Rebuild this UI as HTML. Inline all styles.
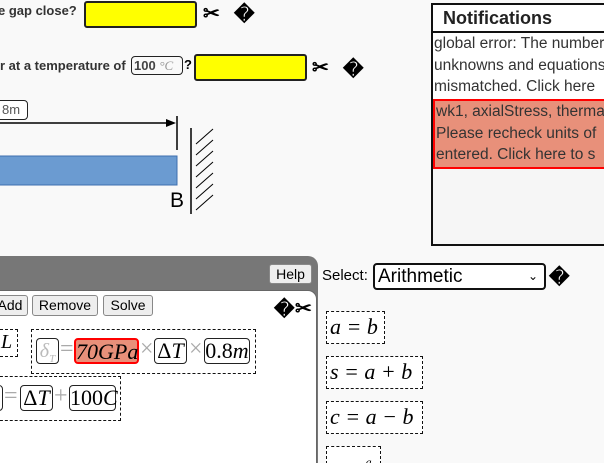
<!DOCTYPE html>
<html style="overflow:hidden;width:604px;height:463px"><head><style>
body{margin:0;width:604px;height:463px;overflow:hidden;background:#f9f9f9;font-family:"Liberation Sans",sans-serif;position:relative}
.a{position:absolute}
.y{position:absolute;background:#ff0;border:2px solid #222;border-radius:3px;box-sizing:border-box}
.q{position:absolute;font-size:20px;font-weight:bold}
.m{font-family:"Liberation Serif",serif;font-style:italic}
.bx{position:absolute;border:1px solid #222;border-radius:4px;box-sizing:border-box;font-family:"Liberation Serif",serif;font-style:italic;font-size:22px;text-align:center;line-height:24px;background:#fff}
.ds{position:absolute;border:1px dashed #111;box-sizing:border-box}
.btn{position:absolute;top:295px;height:21px;border:1px solid #888;border-radius:3px;background:#eee;font-size:14px;line-height:19px;text-align:center;box-sizing:border-box}
.gr{position:absolute;color:#aaa;font-size:24px;font-family:"Liberation Serif",serif}
.nt{font-size:15.5px;line-height:22px;color:#333;white-space:nowrap;padding-left:1px}
.eq{position:absolute;border:1px dashed #111;box-sizing:border-box;font-family:"Liberation Serif",serif;font-style:italic;font-size:22px;line-height:30px;padding-left:3px;white-space:nowrap;background:#fff}
</style></head><body>
<div class="a" style="left:-2px;top:3px;font-size:13px;font-weight:bold;color:#333">e gap close?</div>
<div class="y" style="left:84px;top:1px;width:113px;height:27px"></div>
<div class="q" style="left:203px;top:1px">✂</div>
<div class="q" style="left:234px;top:2px">�</div>
<div class="a" style="left:0;top:58px;font-size:13px;font-weight:bold;color:#333">r at a temperature of</div>
<div class="a" style="left:131px;top:56px;width:52px;height:19px;border:1px solid #222;border-radius:4px;box-sizing:border-box;font-size:13px;font-weight:bold;color:#444;line-height:17px;padding-left:2px">100 <span class="m" style="font-weight:normal;color:#999">°C</span></div>
<div class="a" style="left:184px;top:57px;font-size:13px;font-weight:bold">?</div>
<div class="y" style="left:194px;top:54px;width:113px;height:27px"></div>
<div class="q" style="left:312px;top:55px">✂</div>
<div class="q" style="left:343px;top:57px">�</div>
<div class="a" style="left:-6px;top:100px;width:34px;height:20px;border:1px solid #222;border-radius:4px;box-sizing:border-box;font-size:13px;color:#555;line-height:18px;padding-left:7px;background:#fff">8m</div>
<svg class="a" style="left:0;top:0" width="430" height="230">
<line x1="0" y1="123" x2="170" y2="123" stroke="#000" stroke-width="1.5"/>
<polygon points="176,123 166,119 166,127" fill="#000"/>
<line x1="177" y1="116" x2="177" y2="150" stroke="#000" stroke-width="1.5"/>
<rect x="-1" y="156" width="178" height="29" fill="#6b9bd1" stroke="#3e6fae"/>
<line x1="191" y1="128" x2="191" y2="214" stroke="#000" stroke-width="1.5"/>
<g stroke="#000" stroke-width="1">
<line x1="196" y1="144" x2="213" y2="129"/><line x1="196" y1="155" x2="213" y2="140"/><line x1="196" y1="166" x2="213" y2="151"/><line x1="196" y1="177" x2="213" y2="162"/><line x1="196" y1="188" x2="213" y2="173"/><line x1="196" y1="199" x2="213" y2="184"/><line x1="196" y1="210" x2="213" y2="195"/>
</g>
<text x="170" y="207" font-family="Liberation Sans" font-size="21">B</text>
</svg>
<div class="a" style="left:431px;top:3px;width:180px;height:243px;border:2px solid #111;box-sizing:border-box;background:#f6f6f6;overflow:hidden">
<div style="height:26px;border-bottom:2px solid #111;font-weight:bold;font-size:18px;line-height:26px;padding-left:10px;color:#222;background:#fff">Notifications</div>
<div class="nt" style="background:#fff;height:66px;line-height:21.5px">global error: The numbers<br>unknowns and equations<br>mismatched. Click here</div>
<div class="nt" style="background:#e8907a;border:2px solid #f00;height:70px;box-sizing:border-box;line-height:21.5px">wk1, axialStress, thermal<br>Please recheck units of<br>entered. Click here to s</div>
</div>
<div class="a" style="left:-10px;top:256px;width:328px;height:207px;background:#777;border-radius:0 10px 0 0"></div>
<div class="btn" style="left:269px;top:264px;width:43px;height:20px">Help</div>
<div class="a" style="left:-10px;top:290px;width:325px;height:173px;background:#fff;border-radius:0 9px 0 0;border:1px solid #666;border-bottom:none"></div>
<div class="btn" style="left:-8px;width:36px">Add</div>
<div class="btn" style="left:32px;width:66px">Remove</div>
<div class="btn" style="left:103px;width:50px">Solve</div>
<div class="q" style="left:274px;top:297px">�</div>
<div class="q" style="left:295px;top:296px">✂</div>
<div class="ds" style="left:-5px;top:329px;width:23px;height:28px;background:#fff"><span class="m" style="position:absolute;left:5px;top:1px;font-size:20px">L</span></div>
<div class="ds" style="left:31px;top:329px;width:225px;height:45px;background:#fff"></div>
<div class="bx" style="left:36px;top:338px;width:23px;height:26px;color:#bbb;font-size:20px">δ<sub style="font-size:11px">T</sub></div>
<div class="gr" style="left:60px;top:336px">=</div>
<div class="bx" style="left:74px;top:338px;width:65px;height:26px;background:#e8907a;border:2px solid #f00">70GPa</div>
<div class="gr" style="left:140px;top:336px">×</div>
<div class="bx" style="left:154px;top:338px;width:33px;height:26px;font-style:normal">Δ<i>T</i></div>
<div class="gr" style="left:189px;top:336px">×</div>
<div class="bx" style="left:204px;top:338px;width:46px;height:26px;font-style:normal">0.8<i>m</i></div>
<div class="ds" style="left:-5px;top:376px;width:126px;height:45px;background:#fff"></div>
<div class="bx" style="left:-8px;top:385px;width:11px;height:26px"></div>
<div class="gr" style="left:4px;top:383px">=</div>
<div class="bx" style="left:20px;top:385px;width:33px;height:26px;font-style:normal">Δ<i>T</i></div>
<div class="gr" style="left:54px;top:383px">+</div>
<div class="bx" style="left:69px;top:385px;width:47px;height:26px;font-style:normal">100<i>C</i></div>
<div class="a" style="left:322px;top:267px;font-size:15px">Select:</div>
<div class="a" style="left:373px;top:263px;width:173px;height:27px;border:2px solid #111;border-radius:4px;box-sizing:border-box;background:#fff;font-size:19px;line-height:23px;padding-left:3px">Arithmetic<span style="position:absolute;right:6px;top:0;font-size:12px">⌄</span></div>
<div class="q" style="left:549px;top:265px">�</div>
<div class="eq" style="left:326px;top:311px;width:59px;height:33px">a = b</div>
<div class="eq" style="left:326px;top:356px;width:97px;height:33px">s = a + b</div>
<div class="eq" style="left:326px;top:401px;width:97px;height:33px">c = a − b</div>
<div class="eq" style="left:326px;top:446px;width:55px;height:33px">c = <sup style="font-size:12px">a</sup></div>
</body></html>
